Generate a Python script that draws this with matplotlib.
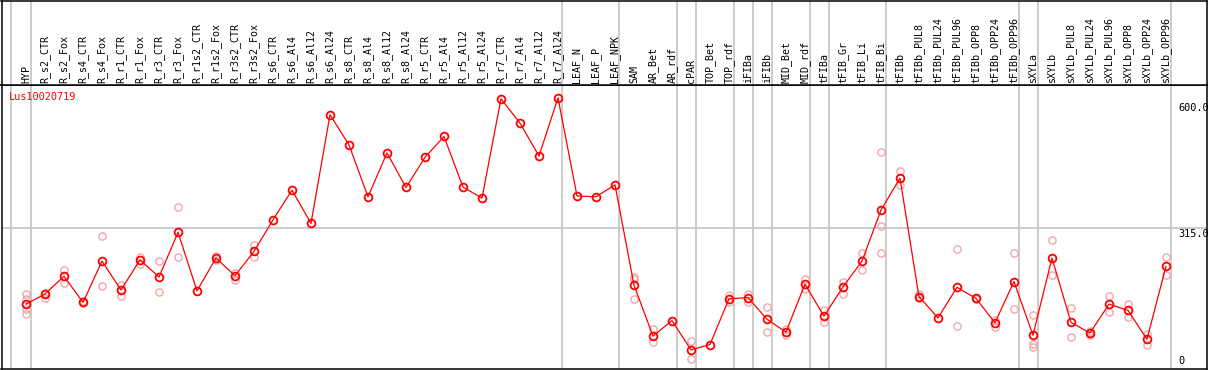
import numpy as np
import matplotlib
matplotlib.use("Agg")
import matplotlib.pyplot as plt

gene = "Lus10020719"

samples = ["HYP", "R_s2_CTR", "R_s2_Fox", "R_s4_CTR", "R_s4_Fox", "R_r1_CTR", "R_r1_Fox",
           "R_r3_CTR", "R_r3_Fox", "R_r1s2_CTR", "R_r1s2_Fox", "R_r3s2_CTR", "R_r3s2_Fox",
           "R_s6_CTR", "R_s6_Al4", "R_s6_Al12", "R_s6_Al24",
           "R_s8_CTR", "R_s8_Al4", "R_s8_Al12", "R_s8_Al24",
           "R_r5_CTR", "R_r5_Al4", "R_r5_Al12", "R_r5_Al24",
           "R_r7_CTR", "R_r7_Al4", "R_r7_Al12", "R_r7_Al24",
           "LEAF_N", "LEAF_P", "LEAF_NPK", "SAM", "AR_Bet", "AR_rdf", "cPAR",
           "TOP_Bet", "TOP_rdf", "iFIBa", "iFIBb", "MID_Bet", "MID_rdf",
           "tFIBa", "tFIB_Gr", "tFIB_Li", "tFIB_Bi", "tFIBb",
           "tFIBb_PUL8", "tFIBb_PUL24", "tFIBb_PUL96", "tFIBb_OPP8", "tFIBb_OPP24", "tFIBb_OPP96",
           "sXYLa", "sXYLb",
           "sXYLb_PUL8", "sXYLb_PUL24", "sXYLb_PUL96", "sXYLb_OPP8", "sXYLb_OPP24", "sXYLb_OPP96"]

means = [144, 167, 207, 148, 241, 176, 244, 205, 306, 174, 248, 208, 263,
         334, 401, 326, 571, 503, 386, 485, 407, 475, 522, 408, 383, 607, 552, 478, 609,
         388, 386, 413, 187, 72, 107, 41, 53, 156, 159, 110, 81, 189,
         117, 183, 241, 356, 428, 161, 113, 182, 157, 102, 195,
         74, 248, 103, 79, 144, 130, 65, 229]

replicates = [[167, 155, 133, 121], [170, 159], [221, 192], [152, 146], [297, 186],
              [188, 163], [251, 234], [241, 171], [362, 250], [], [253, 243], [215, 198],
              [277, 251],
              [], [], [], [], [], [], [], [], [], [], [], [], [], [], [], [],
              [], [], [],
              [206, 200, 155], [87, 58], [], [60, 20], [], [164, 148], [168, 149],
              [138, 81], [87, 74], [201, 178], [131, 104], [195, 168], [259, 221],
              [486, 321, 259], [444, 413], [166, 158], [], [268, 95], [159, 155],
              [108, 93], [259, 132], [119, 54, 48], [289, 209], [135, 71], [83, 74],
              [162, 126], [144, 116], [77, 53], [250, 209]]

# group separators sit just after these sample indices
separators = [-0.8, 0.25, 28.23, 31.23, 34.25, 35.25, 37.25, 38.25, 39.25,
              41.25, 42.25, 45.25, 52.25, 53.25, 60.25]
ref_level = 315.0
y_ticks = [600.0, 315.0, 0]
y_tick_labels = ["600.0", "315.0", "0"]

W, H = 1209, 370
fig = plt.figure(figsize=(W / 100, H / 100), dpi=100)
mono = "DejaVu Sans Mono"
red = "#ff0000"
pink = "#f3a6aa"
grey = "#c4c4c4"

left, right = 1.5 / W, 1207.0 / W
head_h = 85.0 / H
ax = fig.add_axes([left, 1.5 / H, right - left, 1 - head_h - 1.5 / H])
hax = fig.add_axes([left, 1 - head_h, right - left, head_h - 0.5 / H], sharex=ax)

x = np.arange(len(samples))
ax.set_xlim(-1.29, 62.16)
ax.set_ylim(-1, 638)

for s in separators:
    ax.axvline(s, color=grey, lw=1.2, zorder=1)
    hax.axvline(s, color=grey, lw=1.2, zorder=1)
ax.axhline(ref_level, color=grey, lw=1.2, zorder=1)

for i, reps in enumerate(replicates):
    if reps:
        ax.plot([i] * len(reps), reps, "o", ms=5.2, mfc="none", mec=pink, mew=1.0, zorder=2)

ax.plot(x, means, "-", color=red, lw=0.9, zorder=3)
ax.plot(x, means, "o", ms=5.6, mfc="none", mec=red, mew=1.3, zorder=4)

for v, lab in zip(y_ticks, y_tick_labels):
    if v == 0:
        ax.annotate(lab, (0.9765, v), xycoords=("axes fraction", "data"),
                    xytext=(0, 2), textcoords="offset pixels",
                    ha="left", va="bottom", fontsize=7.4, family=mono)
    else:
        ax.annotate(lab, (0.9765, v), xycoords=("axes fraction", "data"),
                    xytext=(0, -1), textcoords="offset pixels",
                    ha="left", va="top", fontsize=7.4, family=mono)

ax.text(0.0062, 0.958, gene, transform=ax.transAxes, color=red,
        fontsize=7.4, family=mono, ha="left", va="center")

for i, name in enumerate(samples):
    hax.text(i, 0.025, name, transform=hax.get_xaxis_transform(), rotation=90,
             ha="center", va="bottom", fontsize=7.2, family=mono)

for a in (ax, hax):
    a.set_xticks([])
    a.set_yticks([])
    for sp in a.spines.values():
        sp.set_linewidth(1.1)
        sp.set_color("black")

fig.savefig("out.png", dpi=100)
